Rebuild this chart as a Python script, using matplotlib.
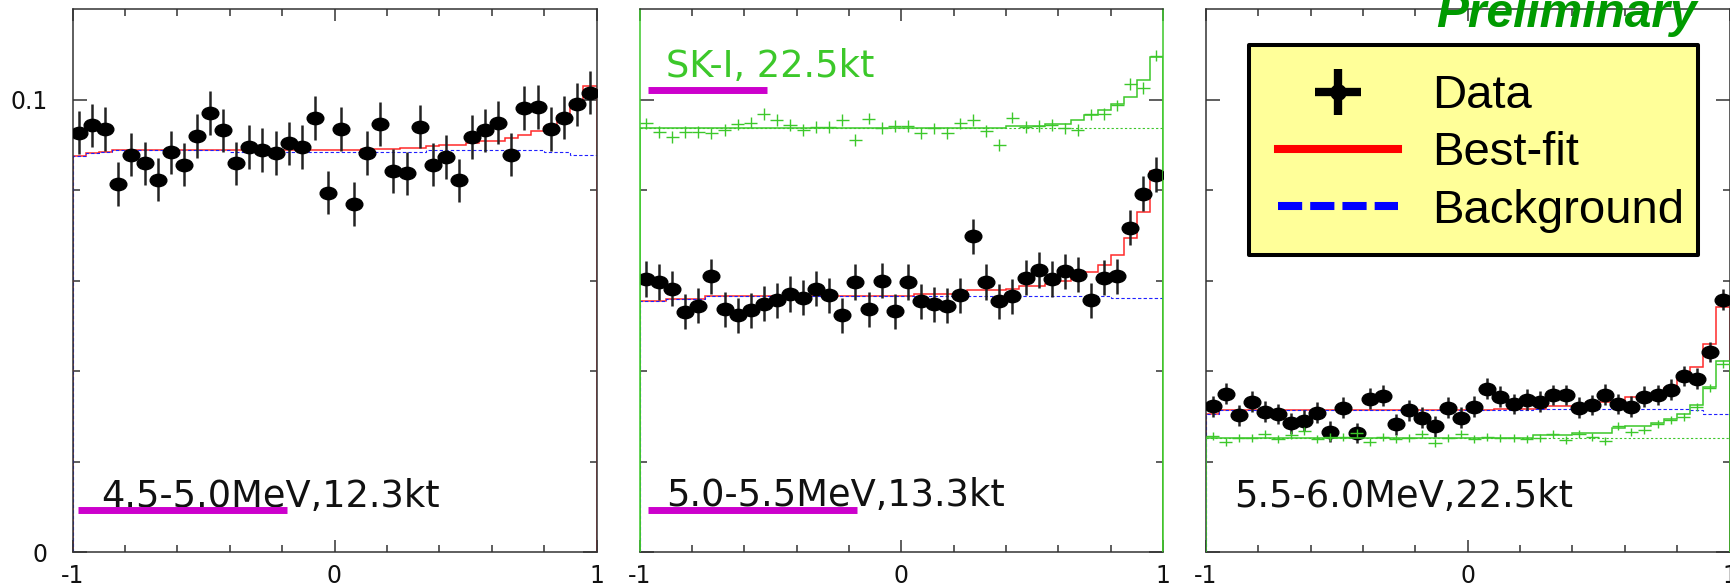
import numpy as np
import matplotlib
matplotlib.use('Agg')
import matplotlib.pyplot as plt
from matplotlib.path import Path
from matplotlib.lines import Line2D
from matplotlib.patches import Rectangle
from matplotlib.transforms import Affine2D
from matplotlib.legend_handler import HandlerTuple

plt.rcParams['font.family'] = ['DejaVu Sans']
plt.rcParams['axes.unicode_minus'] = False

# ---------------- data ----------------
n_bins = 40
x_range = (-1.0, 1.0)
y_range = (0.0, 0.12)
x_tick_vals = [-1, 0, 1]
x_tick_labels = ['-1', '0', '1']
x_minor_vals = [-0.8, -0.6, -0.4, -0.2, 0.2, 0.4, 0.6, 0.8]
y_tick_vals = [0.0, 0.1]
y_tick_labels = ['0', '0.1']
y_minor_vals = [0.02, 0.04, 0.06, 0.08]

panel_labels = ['4.5-5.0MeV,12.3kt', '5.0-5.5MeV,13.3kt', '5.5-6.0MeV,22.5kt']
sk1_label = 'SK-I, 22.5kt'
legend_labels = ['Data', 'Best-fit', 'Background']
stamp = 'Preliminary'

# panel 1 : 4.5-5.0 MeV
data_1 = [0.0927, 0.0943, 0.0935, 0.0813, 0.0878, 0.0859, 0.0823, 0.0883, 0.0856, 0.0919,
          0.0970, 0.0932, 0.0859, 0.0895, 0.0888, 0.0882, 0.0903, 0.0895, 0.0959, 0.0794,
          0.0935, 0.0769, 0.0882, 0.0946, 0.0842, 0.0837, 0.0940, 0.0856, 0.0873, 0.0821,
          0.0917, 0.0932, 0.0949, 0.0878, 0.0981, 0.0983, 0.0935, 0.0960, 0.0989, 0.1015]
err_1 = 0.0048
bkg_1 = [0.0876, 0.0881, 0.0885, 0.0888, 0.0888, 0.0888, 0.0888, 0.0888, 0.0888, 0.0888,
         0.0888, 0.0888, 0.0884, 0.0884, 0.0884, 0.0884, 0.0884, 0.0884, 0.0884, 0.0884,
         0.0884, 0.0884, 0.0884, 0.0884, 0.0884, 0.0884, 0.0884, 0.0888, 0.0888, 0.0888,
         0.0888, 0.0888, 0.0888, 0.0888, 0.0888, 0.0888, 0.0885, 0.0885, 0.0878, 0.0878]
fit_1 = [0.0876, 0.0881, 0.0885, 0.0888, 0.0888, 0.0888, 0.0888, 0.0888, 0.0888, 0.0888,
         0.0888, 0.0888, 0.0888, 0.0888, 0.0888, 0.0888, 0.0888, 0.0888, 0.0888, 0.0888,
         0.0888, 0.0889, 0.0890, 0.0890, 0.0890, 0.0893, 0.0893, 0.0897, 0.0900, 0.0900,
         0.0904, 0.0908, 0.0908, 0.0916, 0.0921, 0.0930, 0.0939, 0.0963, 0.0989, 0.1029]

# panel 2 : 5.0-5.5 MeV
data_2 = [0.0603, 0.0597, 0.0582, 0.0531, 0.0544, 0.0609, 0.0536, 0.0523, 0.0534, 0.0549,
          0.0556, 0.0570, 0.0562, 0.0582, 0.0567, 0.0523, 0.0597, 0.0536, 0.0600, 0.0532,
          0.0597, 0.0554, 0.0547, 0.0544, 0.0567, 0.0698, 0.0597, 0.0554, 0.0565, 0.0606,
          0.0623, 0.0603, 0.0620, 0.0613, 0.0556, 0.0606, 0.0609, 0.0717, 0.0792, 0.0834]
err_2 = 0.0039
bkg_2 = [0.0554, 0.0554, 0.0560, 0.0560, 0.0560, 0.0565, 0.0565, 0.0565, 0.0565, 0.0565,
         0.0565, 0.0565, 0.0565, 0.0565, 0.0565, 0.0565, 0.0565, 0.0565, 0.0565, 0.0565,
         0.0565, 0.0565, 0.0565, 0.0565, 0.0565, 0.0565, 0.0565, 0.0565, 0.0565, 0.0565,
         0.0565, 0.0565, 0.0565, 0.0565, 0.0565, 0.0565, 0.0562, 0.0562, 0.0562, 0.0562]
fit_2 = [0.0554, 0.0554, 0.0560, 0.0560, 0.0560, 0.0565, 0.0565, 0.0565, 0.0565, 0.0565,
         0.0565, 0.0565, 0.0565, 0.0565, 0.0565, 0.0565, 0.0565, 0.0565, 0.0565, 0.0565,
         0.0565, 0.0571, 0.0571, 0.0571, 0.0571, 0.0578, 0.0578, 0.0578, 0.0582, 0.0587,
         0.0587, 0.0593, 0.0599, 0.0608, 0.0619, 0.0634, 0.0657, 0.0693, 0.0751, 0.0843]
sk1_data_2 = [0.0947, 0.0928, 0.0917, 0.0928, 0.0928, 0.0925, 0.0932, 0.0945, 0.0949, 0.0968,
              0.0954, 0.0943, 0.0932, 0.0939, 0.0939, 0.0954, 0.0910, 0.0958, 0.0937, 0.0941,
              0.0941, 0.0925, 0.0936, 0.0926, 0.0947, 0.0954, 0.0930, 0.0899, 0.0960, 0.0939,
              0.0941, 0.0943, 0.0936, 0.0932, 0.0967, 0.0968, 0.0987, 0.1034, 0.1026, 0.1097]
sk1_err_2 = 0.0013
sk1_fit_2 = [0.0936, 0.0936, 0.0936, 0.0936, 0.0936, 0.0936, 0.0936, 0.0936, 0.0936, 0.0936,
             0.0936, 0.0936, 0.0936, 0.0936, 0.0936, 0.0936, 0.0936, 0.0936, 0.0936, 0.0936,
             0.0936, 0.0936, 0.0936, 0.0936, 0.0936, 0.0936, 0.0936, 0.0936, 0.0941, 0.0941,
             0.0941, 0.0945, 0.0945, 0.0954, 0.0965, 0.0976, 0.0989, 0.1005, 0.1042, 0.1093]
sk1_bkg_2 = [0.0936] * n_bins

# panel 3 : 5.5-6.0 MeV
data_3 = [0.0322, 0.0350, 0.0302, 0.0332, 0.0310, 0.0305, 0.0284, 0.0290, 0.0308, 0.0266,
          0.0319, 0.0263, 0.0339, 0.0345, 0.0282, 0.0313, 0.0297, 0.0278, 0.0319, 0.0297,
          0.0321, 0.0361, 0.0343, 0.0327, 0.0337, 0.0332, 0.0347, 0.0347, 0.0319, 0.0325,
          0.0348, 0.0327, 0.0321, 0.0343, 0.0347, 0.0359, 0.0389, 0.0383, 0.0442, 0.0558]
err_3 = 0.0023
bkg_3 = [0.0306, 0.0313, 0.0313, 0.0313, 0.0313, 0.0313, 0.0313, 0.0313, 0.0313, 0.0313,
         0.0313, 0.0313, 0.0313, 0.0313, 0.0313, 0.0313, 0.0313, 0.0313, 0.0313, 0.0313,
         0.0313, 0.0313, 0.0313, 0.0313, 0.0313, 0.0315, 0.0315, 0.0315, 0.0315, 0.0315,
         0.0315, 0.0315, 0.0315, 0.0315, 0.0315, 0.0315, 0.0315, 0.0313, 0.0306, 0.0306]
fit_3 = [0.0306, 0.0313, 0.0313, 0.0313, 0.0313, 0.0313, 0.0313, 0.0313, 0.0313, 0.0313,
         0.0313, 0.0313, 0.0313, 0.0313, 0.0313, 0.0313, 0.0313, 0.0313, 0.0313, 0.0313,
         0.0313, 0.0313, 0.0317, 0.0317, 0.0317, 0.0317, 0.0323, 0.0323, 0.0323, 0.0332,
         0.0332, 0.0332, 0.0343, 0.0343, 0.0350, 0.0363, 0.0383, 0.0409, 0.0459, 0.0542]
sk1_data_3 = [0.0256, 0.0244, 0.0252, 0.0252, 0.0260, 0.0249, 0.0258, 0.0268, 0.0249, 0.0254,
              0.0254, 0.0263, 0.0244, 0.0254, 0.0249, 0.0251, 0.0260, 0.0240, 0.0252, 0.0260,
              0.0249, 0.0254, 0.0252, 0.0252, 0.0249, 0.0252, 0.0260, 0.0247, 0.0260, 0.0254,
              0.0245, 0.0278, 0.0266, 0.0269, 0.0283, 0.0291, 0.0299, 0.0321, 0.0363, 0.0415]
sk1_err_3 = 0.0009
sk1_fit_3 = [0.0252, 0.0252, 0.0252, 0.0252, 0.0252, 0.0252, 0.0252, 0.0252, 0.0252, 0.0252,
             0.0252, 0.0252, 0.0252, 0.0252, 0.0252, 0.0252, 0.0252, 0.0252, 0.0252, 0.0252,
             0.0252, 0.0252, 0.0252, 0.0252, 0.0252, 0.0258, 0.0258, 0.0258, 0.0262, 0.0262,
             0.0262, 0.0273, 0.0278, 0.0278, 0.0286, 0.0295, 0.0305, 0.0325, 0.0365, 0.0422]
sk1_bkg_3 = [0.0252] * n_bins

# ---------------- style ----------------
GREEN = '#3CC82A'
RED = '#FF2A2A'
BLUE = '#2020FF'
MAGENTA = '#CC00CC'
AXC = '#333333'

W, H = 1730, 588
fig = plt.figure(figsize=(W / 100, H / 100), dpi=100)
panel_px = [(72.5, 596.5), (639.5, 1163.0), (1206.0, 1729.5)]
top_px, bot_px = 9.0, 552.0

edges = np.linspace(x_range[0], x_range[1], n_bins + 1)
centers = 0.5 * (edges[:-1] + edges[1:])
half_w = 0.5 * (edges[1] - edges[0])

ell = Path.unit_circle().transformed(Affine2D().scale(1.35, 1.0))

panels = [
    dict(data=data_1, err=err_1, bkg=bkg_1, fit=fit_1, sk1=None),
    dict(data=data_2, err=err_2, bkg=bkg_2, fit=fit_2,
         sk1=(sk1_data_2, sk1_err_2, sk1_fit_2, sk1_bkg_2)),
    dict(data=data_3, err=err_3, bkg=bkg_3, fit=fit_3,
         sk1=(sk1_data_3, sk1_err_3, sk1_fit_3, sk1_bkg_3)),
]

axes = []
for i, (p, (l, r)) in enumerate(zip(panels, panel_px)):
    ax = fig.add_axes([l / W, (H - bot_px) / H, (r - l) / W, (bot_px - top_px) / H])
    axes.append(ax)
    ax.stairs(p['fit'], edges, baseline=0, color=RED, lw=1.1, zorder=2)
    ax.stairs(p['bkg'], edges, baseline=0, color=BLUE, lw=0.8, ls=(0, (3, 2)), zorder=2.1)
    ax.errorbar(centers, p['data'], yerr=p['err'], ls='none', marker=ell, ms=12,
                color='k', mec='k', ecolor='#222222', elinewidth=1.8, capsize=0, zorder=3)
    if p['sk1'] is not None:
        sd, se, sf, sb = p['sk1']
        ax.stairs(sb, edges, baseline=None, color=GREEN, lw=0.8, ls=(0, (2, 2)), zorder=2.2)
        ax.stairs(sf, edges, baseline=0, color=GREEN, lw=1.1, zorder=3.5)
        ax.errorbar(centers, sd, xerr=half_w, yerr=se, fmt='none', ecolor=GREEN,
                    elinewidth=1.0, capsize=0, zorder=3.6)

    ax.set_xlim(*x_range)
    ax.set_ylim(*y_range)
    ax.set_xticks(x_tick_vals)
    ax.set_xticklabels(x_tick_labels)
    ax.set_xticks(x_minor_vals, minor=True)
    ax.set_yticks(y_tick_vals)
    ax.set_yticks(y_minor_vals, minor=True)
    if i == 0:
        ax.set_yticklabels(y_tick_labels)
    else:
        ax.set_yticklabels([])
    ax.tick_params(which='both', direction='in', top=True, right=True, color=AXC,
                   width=1.1, labelsize=17, labelcolor='#111111')
    ax.tick_params(axis='x', which='major', length=8.5, pad=8.5)
    ax.tick_params(axis='y', which='major', length=10, pad=18)
    ax.tick_params(which='minor', length=5)
    for s in ax.spines.values():
        s.set_color(AXC)
        s.set_linewidth(1.1)
    if i == 1:
        ax.spines['left'].set_color(GREEN)
        ax.spines['right'].set_color(GREEN)

# panel labels with magenta underlines
label_pos = [(0.0544, 0.0829), (0.0506, 0.0847), (0.0534, 0.0829)]
for ax, txt, (tx, ty) in zip(axes, panel_labels, label_pos):
    ax.text(tx, ty, txt, transform=ax.transAxes, ha='left', va='baseline',
            fontsize=26.5, color='#111111', zorder=6)
axes[0].plot([0.0105, 0.409], [0.0773, 0.0773], transform=axes[0].transAxes,
             color=MAGENTA, lw=5, solid_capstyle='butt', zorder=7, clip_on=False)
axes[1].plot([0.0162, 0.415], [0.0773, 0.0773], transform=axes[1].transAxes,
             color=MAGENTA, lw=5, solid_capstyle='butt', zorder=7, clip_on=False)
axes[1].text(0.0506, 0.8748, sk1_label, transform=axes[1].transAxes, ha='left',
             va='baseline', fontsize=26.5, color=GREEN, zorder=6)
axes[1].plot([0.0162, 0.2443], [0.8517, 0.8517], transform=axes[1].transAxes,
             color=MAGENTA, lw=5, solid_capstyle='butt', zorder=7, clip_on=False)

# legend box (drawn separately) and legend entries
ax3 = axes[2]
box = Rectangle((0.0821, 0.5470), 0.9389 - 0.0821, 0.9337 - 0.5470,
                transform=ax3.transAxes, facecolor='#FFFF99', edgecolor='k',
                linewidth=2.9, joinstyle='round', zorder=9, clip_on=False)
ax3.add_patch(box)
h_data = (Line2D([], [], ls='none', marker='+', ms=33, mew=6, color='k'),
          Line2D([], [], ls='none', marker='o', ms=11, color='k'))
h_fit = Line2D([], [], color='#FF0000', lw=5.8)
h_bkg = Line2D([], [], color='#0000FF', lw=5.8, ls=(0, (3, 1)))
leg = ax3.legend([h_data, h_fit, h_bkg], legend_labels, loc='upper left',
                 bbox_to_anchor=(0.1374, 0.8800), borderaxespad=0, borderpad=0,
                 prop={'family': 'Liberation Sans', 'size': 34},
                 frameon=False, labelspacing=0.28, handlelength=2.54,
                 handletextpad=0.72, handler_map={tuple: HandlerTuple(ndivide=1)})
leg.set_zorder(10)

fig.text(1697 / W, (H - 27) / H, stamp, ha='right', va='baseline', fontsize=34.5,
         fontweight='bold', fontstyle='italic', color='#009A00', family='Liberation Sans')

fig.savefig('out.png', dpi=100)
